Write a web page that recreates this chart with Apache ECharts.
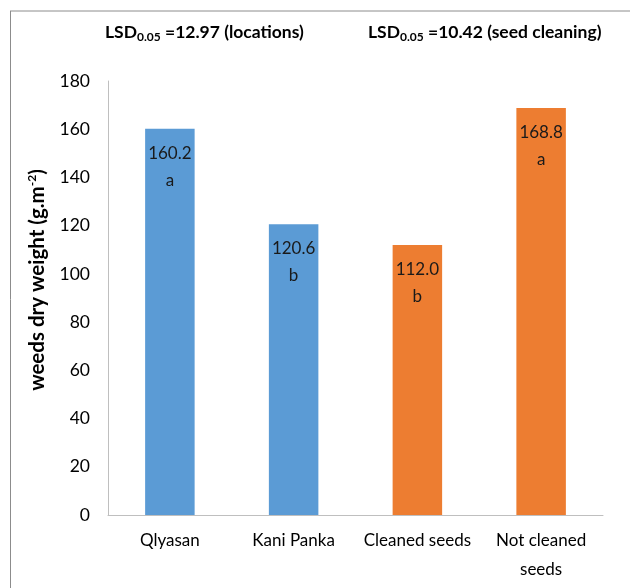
<!DOCTYPE html>
<html><head><meta charset="utf-8">
<script src="https://cdn.jsdelivr.net/npm/echarts@6/dist/echarts.min.js"></script>
<style>html,body{margin:0;padding:0;background:#fff}#c{width:630px;height:588px}</style>
</head><body><div id="c"></div>
<script>
const categories = ['Qlyasan', 'Kani Panka', 'Cleaned seeds', 'Not cleaned\nseeds'];
const values = [160.2, 120.6, 112.0, 168.8];
const letters = ['a', 'b', 'b', 'a'];
const barColors = ['#5B9BD5', '#5B9BD5', '#ED7D31', '#ED7D31'];
const yTicks = {min: 0, max: 180, interval: 20};
const FONT = 'Lato';

const chart = echarts.init(document.getElementById('c'));
const titleRich = {
  b: {fontFamily: FONT, fontWeight: 'bold', fontSize: 17.5, color: '#000'},
  s: {fontFamily: FONT, fontWeight: 'bold', fontSize: 12, color: '#000', verticalAlign: 'bottom', padding: [9, 0, 0, 0]}
};
chart.setOption({
  animation: false,
  title: [
    {text: '{b|LSD}{s|0.05}{b| =12.97 (locations)}', left: 100, top: 17, textStyle: {rich: titleRich}},
    {text: '{b|LSD}{s|0.05}{b| =10.42 (seed cleaning)}', left: 363, top: 17, textStyle: {rich: titleRich}}
  ],
  graphic: [
    {type: 'line', shape: {x1: 10, y1: 11, x2: 630, y2: 11}, style: {stroke: '#8c8c8c', lineWidth: 1}},
    {type: 'line', shape: {x1: 10.5, y1: 11, x2: 10.5, y2: 588}, style: {stroke: '#8c8c8c', lineWidth: 1}}
  ],
  grid: {left: 108, right: 27, top: 81, bottom: 73},
  xAxis: {
    type: 'category', data: categories,
    axisLine: {lineStyle: {color: '#bfbfbf'}},
    axisTick: {show: false},
    axisLabel: {fontFamily: FONT, fontSize: 17, color: '#000', margin: 11, lineHeight: 29, interval: 0}
  },
  yAxis: {
    type: 'value', min: yTicks.min, max: yTicks.max, interval: yTicks.interval,
    splitLine: {show: false},
    axisLine: {show: true, lineStyle: {color: '#bfbfbf'}},
    axisTick: {show: false},
    axisLabel: {fontFamily: FONT, fontSize: 17.5, color: '#000', margin: 18},
    name: '{n|weeds dry weight (g.m}{p|-2}{n|)}',
    nameLocation: 'middle', nameRotate: 90, nameGap: 60,
    nameTextStyle: {padding: [0, 0, 0, 36], rich: {
      n: {fontFamily: FONT, fontWeight: 'bold', fontSize: 20.5, color: '#000'},
      p: {fontFamily: FONT, fontWeight: 'bold', fontSize: 12, color: '#000', verticalAlign: 'top', padding: [0, 0, 10, 0]}
    }}
  },
  series: [{
    type: 'bar', barWidth: '40%',
    data: values.map((v, i) => ({value: v, itemStyle: {color: barColors[i]}})),
    label: {
      show: true, position: 'insideTop', distance: 11,
      fontFamily: FONT, fontSize: 17, color: '#1a1a1a', lineHeight: 27,
      formatter: p => p.value.toFixed(1) + '\n' + letters[p.dataIndex]
    }
  }]
});
</script></body></html>
